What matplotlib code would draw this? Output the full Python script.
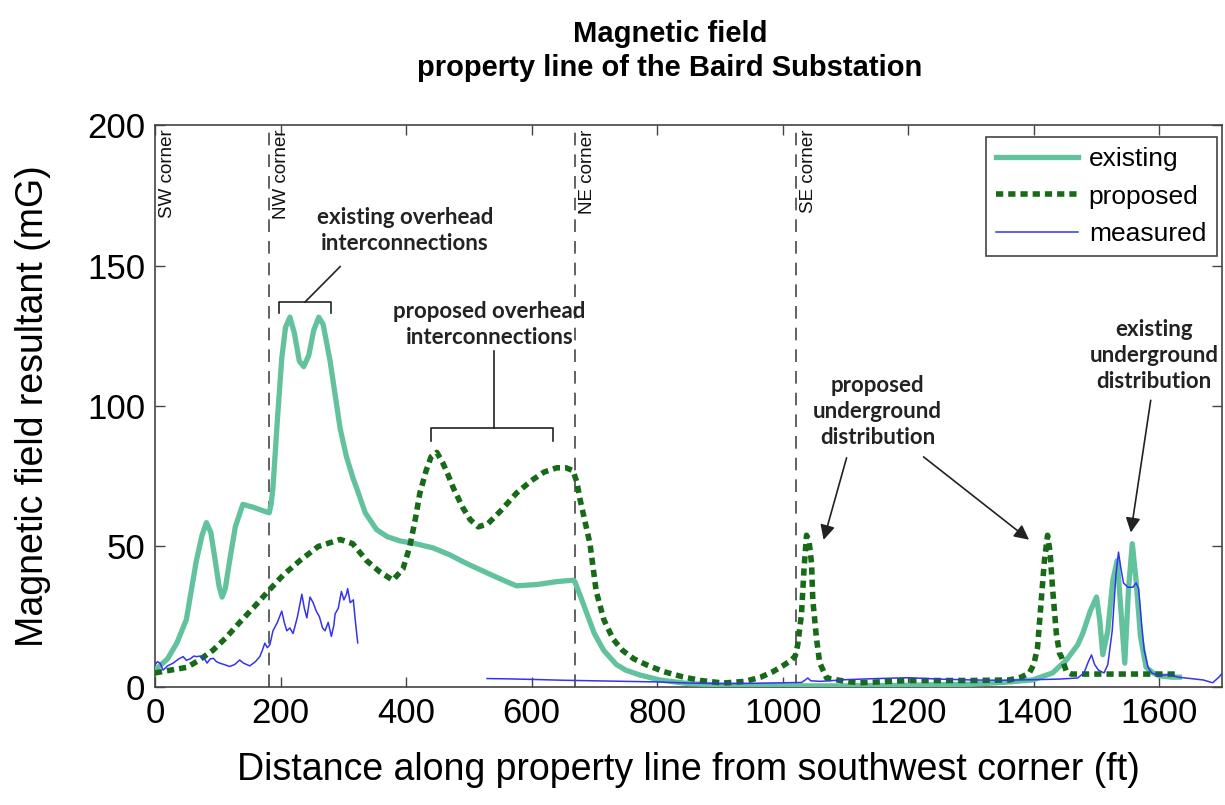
import matplotlib
matplotlib.use('Agg')
from matplotlib import pyplot as plt

# existing (calculated) field
existing_x = [0, 20, 35, 50, 66, 75, 82, 89, 96, 102, 107, 112, 119, 128, 140, 156, 175, 182,
              185, 188, 195, 202, 208, 215, 222, 230, 237, 245, 253, 261, 268, 279, 287, 295,
              305, 316, 321, 335, 353, 370, 390, 415, 443, 470, 496, 530, 560, 576, 610, 640,
              666, 669, 680, 690, 700, 715, 735, 750, 772, 804, 850, 900, 1000, 1100, 1200,
              1300, 1350, 1398, 1430, 1452, 1470, 1478, 1490, 1500, 1505, 1510, 1518, 1526,
              1533, 1538, 1545, 1551, 1557, 1563, 1570, 1579, 1590, 1600, 1620, 1632]
existing_y = [6, 10, 15.7, 24, 45, 54, 58.5, 55, 45, 36, 32, 35, 45, 57, 65, 64, 62.5, 62,
              65, 71, 95, 117, 128, 131.6, 126, 116, 114, 118, 127, 131.6, 129, 116, 104, 92,
              82, 74, 71, 62, 56, 53.5, 52, 51, 49.5, 47, 44, 40.5, 37.5, 36, 36.5, 37.5,
              38, 37.5, 31, 25, 19, 13, 8, 6, 4.3, 2.5, 1.2, 0.7, 0.4, 0.4, 0.6,
              1.0, 1.6, 2.5, 5, 9.6, 15, 19, 27, 32, 24, 11.5, 20, 38,
              45, 30, 8.5, 35, 51, 38, 18, 7, 5, 4, 3.5, 3.5]

# proposed field
proposed_x = [0, 25, 51, 70, 92, 113, 135, 158, 180, 205, 231, 260, 295, 315, 337, 358, 379,
              395, 406, 415, 422, 432, 440, 449, 458, 466, 475, 490, 502, 515, 530, 550, 576,
              600, 620, 640, 655, 666, 672, 677, 685, 693, 703, 715, 730, 745, 763, 783, 810,
              841, 870, 905, 940, 965, 984, 1000, 1014, 1020, 1024, 1030, 1034, 1038, 1042,
              1046, 1048, 1051, 1054, 1059, 1070, 1100, 1123, 1200, 1300, 1361, 1380, 1393,
              1400, 1406, 1412, 1417, 1422, 1426, 1430, 1436, 1441, 1444, 1452, 1460, 1500,
              1550, 1600, 1627]
proposed_y = [5, 6, 7, 9.5, 13, 17.5, 23, 28.5, 34, 40, 45, 50, 52.5, 51, 45, 41, 38,
              42, 50, 60, 69, 77, 82, 83.5, 80, 76, 71, 64, 59.6, 57, 58, 62.5, 69,
              73.5, 76.5, 78, 78, 77, 73, 67, 59, 51, 34, 24, 17, 13, 10, 7.9, 5.5,
              3.6, 2.3, 1.4, 2, 3.5, 5.4, 7.5, 9.6, 11, 15, 26, 42, 54, 52,
              44, 31, 24, 17, 8.6, 3.2, 2, 1.5, 2.3, 2.3, 2.5, 3.5, 5,
              8, 14, 31, 45, 54, 48, 35, 19, 12, 10.8, 5.5, 4.6, 4.6,
              4.6, 4.6, 4.6]

# measured field, two survey segments
meas1_x = [0, 4, 8, 13, 20, 29, 38, 45, 50, 56, 62, 66, 72, 77, 83, 88, 93, 98, 103, 110,
           119, 127, 135, 141, 151, 160, 167, 171, 175, 179, 183, 188, 195, 202, 206, 210,
           215, 220, 227, 234, 238, 242, 247, 252, 257, 262, 267, 271, 276, 281, 285, 287,
           292, 297, 301, 305, 307, 311, 316, 319, 323]
meas1_y = [7.9, 9, 8.5, 6, 7.5, 8.5, 10, 10.8, 9.5, 10, 11, 10.8, 11, 10.8, 8.5, 10, 10.2, 9,
           8.5, 8, 7.3, 8, 9.6, 8.5, 7.5, 9, 10.8, 13, 15.6, 14, 15, 20, 23, 27, 23, 20,
           21, 19, 25, 33, 28, 24.6, 32, 30, 27, 25, 21, 20, 23, 18, 22, 26,
           28, 34, 31, 33, 35, 30, 31, 24, 15.7]
meas2_x = [529, 560, 600, 650, 700, 750, 800, 850, 900, 950, 1000, 1030, 1036, 1040, 1045,
           1060, 1100, 1150, 1200, 1250, 1300, 1350, 1400, 1440, 1470, 1480, 1487, 1492,
           1497, 1503, 1512, 1518, 1525, 1531, 1535, 1539, 1543, 1550, 1558, 1563, 1567,
           1572, 1576, 1582, 1588, 1600, 1615, 1630, 1650, 1670, 1685, 1695, 1700]
meas2_y = [3.0, 2.9, 2.7, 2.4, 2.2, 2.0, 1.8, 1.4, 1.2, 1.3, 1.5, 1.6, 2.5, 3.2, 2.2,
           2.0, 2.6, 3.0, 3.3, 2.8, 2.5, 2.4, 2.6, 2.8, 3.2, 5, 9, 11.4,
           8, 6, 5, 8, 20, 40, 48, 42, 37, 35.5, 35.5, 37, 35,
           22, 13, 7, 5, 4, 4.5, 3.5, 3, 2.5, 1.5, 3.5, 4.8]

corner_names = ['SW corner', 'NW corner', 'NE corner', 'SE corner']
corner_pos = [0, 182, 669, 1022]

fig = plt.figure(figsize=(12.25, 8.05), dpi=100)
ax = fig.add_axes([0.1265, 0.1466, 0.8711, 0.6981])

for name, pos in zip(corner_names, corner_pos):
    if pos > 0:
        ax.axvline(pos, color='#555555', lw=1.3, dashes=(7, 5), zorder=1)
    ax.text(pos + 6, 198.5, name, rotation=90, ha='left', va='top',
            fontsize=13.5, family='Liberation Sans', color='#111111')

ax.plot(existing_x, existing_y, color='#62c29d', lw=3.8, label='existing',
        solid_joinstyle='round', zorder=3)
ax.plot(proposed_x, proposed_y, color='#176a17', lw=4, dashes=(1.3, 0.9),
        dash_capstyle='butt', label='proposed', zorder=4)
ax.plot(meas1_x, meas1_y, color='#3434f0', lw=1.1, label='measured', zorder=5)
ax.plot(meas2_x, meas2_y, color='#3434f0', lw=1.1, zorder=5)

ax.set_xlim(0, 1700)
ax.set_ylim(0, 200)
ax.set_xticks(range(0, 1601, 200))
ax.set_yticks(range(0, 201, 50))
ax.tick_params(direction='in', top=True, right=True, length=7, width=1,
               color='#444444', labelsize=25, pad=7)
for lab in ax.get_xticklabels() + ax.get_yticklabels():
    lab.set_family('Liberation Sans')
for sp in ax.spines.values():
    sp.set_color('#444444')
    sp.set_linewidth(1.2)

ax.set_xlabel('Distance along property line from southwest corner (ft)',
              fontsize=27, family='Liberation Sans', labelpad=16)
ax.set_ylabel('Magnetic field resultant (mG)', fontsize=27,
              family='Liberation Sans', labelpad=26)

fig.text(0.547, 0.975, 'Magnetic field\nproperty line of the Baird Substation',
         ha='center', va='top', fontsize=21, fontweight='bold',
         family='Liberation Sans', linespacing=1.25)

# annotations
note = dict(ha='center', va='center', fontsize=16, fontweight='bold',
            family='Lato', color='#222222', linespacing=1.3)
bk = dict(color='#222222', lw=1.2, zorder=6)

ax.text(398, 162.5, 'existing overhead\ninterconnections', **note)
ax.plot([198, 198, 280, 280], [133, 137, 137, 133], **bk)
ax.plot([239, 295], [137, 149.6], **bk)

ax.text(533, 129, 'proposed overhead\ninterconnections', **note)
ax.plot([440, 440, 634, 634], [87.5, 92, 92, 87.5], **bk)
ax.plot([540, 540], [92, 119.6], **bk)

ax.text(1151, 98, 'proposed\nunderground\ndistribution', **note)
arr = dict(arrowstyle='-|>', color='#222222', lw=1.2, mutation_scale=22)
ax.annotate('', xy=(1064, 51.4), xytext=(1103, 82.5), arrowprops=arr)
ax.annotate('', xy=(1396, 51.8), xytext=(1221, 82.5), arrowprops=arr)

ax.text(1592, 118, 'existing\nunderground\ndistribution', **note)
ax.annotate('', xy=(1554, 54), xytext=(1587, 103), arrowprops=arr)

leg = ax.legend(loc='upper right', bbox_to_anchor=(0.995, 0.979), borderaxespad=0,
                handlelength=3.1, fancybox=False, framealpha=1,
                edgecolor='#444444', prop={'family': 'Liberation Sans', 'size': 19},
                labelspacing=0.5, handletextpad=0.4, borderpad=0.4)
leg.get_frame().set_linewidth(1.2)

fig.savefig('out.png', dpi=100)
